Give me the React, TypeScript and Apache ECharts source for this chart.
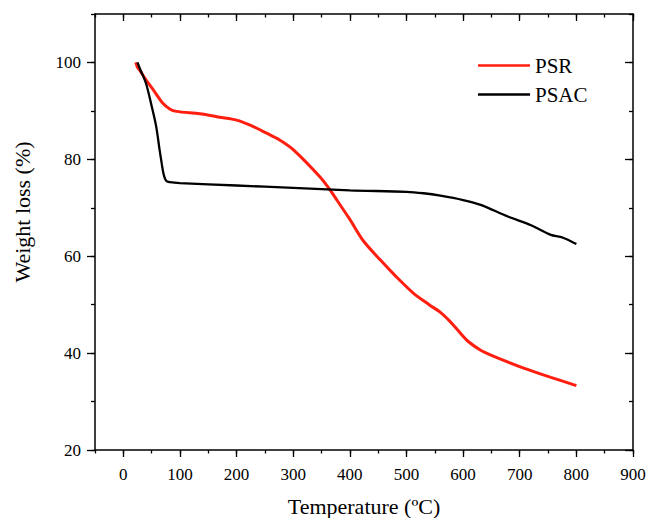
import React, { useEffect, useRef } from "react";
import * as echarts from "echarts";

const psrTemp = [22, 25, 30, 40, 55, 69, 82, 94, 135, 170, 200, 225, 253, 276, 300, 347, 365, 377, 400, 423, 454, 480, 512, 540, 560, 578, 590, 608, 631, 649, 707, 755, 800];
const psrValue = [100, 99, 98.2, 96.4, 94, 91.7, 90.4, 89.9, 89.4, 88.7, 88.1, 87.0, 85.4, 84.0, 82, 76.4, 73.7, 71.6, 67.6, 63.3, 59.2, 56, 52.4, 50, 48.4, 46.4, 44.8, 42.5, 40.6, 39.6, 36.9, 35.0, 33.3];

const psacTemp = [25, 30, 40, 50, 58, 64, 68, 71, 74, 78, 90, 100, 200, 300, 400, 500, 530, 560, 600, 631, 679, 720, 755, 772, 785, 800];
const psacValue = [100, 98.5, 95.7, 91, 86.8, 82, 79, 77, 75.9, 75.4, 75.2, 75.1, 74.6, 74.1, 73.6, 73.3, 73.0, 72.5, 71.6, 70.6, 68.2, 66.4, 64.4, 64.0, 63.4, 62.5];

const xMajorTicks = [0, 100, 200, 300, 400, 500, 600, 700, 800, 900];
const yMajorTicks = [20, 40, 60, 80, 100];

const seriesNames = ["PSR", "PSAC"];
const xTitle = "Temperature (ºC)";
const yTitle = "Weight loss (%)";

const FONT = "'Liberation Serif', 'Times New Roman', serif";

export default function App() {
  const ref = useRef<HTMLDivElement>(null);
  useEffect(() => {
    const chart = echarts.init(ref.current!, null, { renderer: "svg" });
    const axisLine = { show: true, onZero: false, lineStyle: { color: "#000", width: 1.5 } };
    const noLine = { show: false, onZero: false };
    const base = { type: "value", min: -50, max: 900, interval: 50, splitLine: { show: false } };
    const ybase = { type: "value", min: 20, max: 110, interval: 10, splitLine: { show: false } };
    const tickStyle = { color: "#000", width: 1.3 };
    chart.setOption({
      animation: false,
      backgroundColor: "#fff",
      grid: { left: 95, right: 16, top: 14, bottom: 68, containLabel: false },
      legend: {
        orient: "vertical",
        left: 473,
        top: 50,
        itemWidth: 52,
        itemHeight: 2.5,
        itemGap: 8,
        icon: "rect",
        data: seriesNames,
        textStyle: { fontFamily: FONT, fontSize: 21, color: "#000", lineHeight: 20 },
      },
      xAxis: [
        {
          ...base,
          position: "bottom",
          axisLine,
          axisTick: { show: true, inside: false, length: 7, lineStyle: tickStyle, customValues: xMajorTicks },
          axisLabel: { show: true, customValues: xMajorTicks, fontFamily: FONT, fontSize: 17, color: "#000", margin: 16 },
        },
        {
          ...base,
          position: "bottom",
          axisLine: noLine,
          axisTick: { show: true, inside: false, length: 3.5, lineStyle: tickStyle },
          axisLabel: { show: false },
        },
        {
          ...base,
          position: "top",
          axisLine,
          axisTick: { show: true, inside: true, length: 7, lineStyle: tickStyle, customValues: xMajorTicks },
          axisLabel: { show: false },
        },
        {
          ...base,
          position: "top",
          axisLine: noLine,
          axisTick: { show: true, inside: true, length: 3.5, lineStyle: tickStyle },
          axisLabel: { show: false },
        },
      ],
      yAxis: [
        {
          ...ybase,
          position: "left",
          axisLine,
          axisTick: { show: true, inside: false, length: 8, lineStyle: tickStyle, customValues: yMajorTicks },
          axisLabel: { show: true, customValues: yMajorTicks, fontFamily: FONT, fontSize: 17, color: "#000", margin: 14 },
        },
        {
          ...ybase,
          position: "left",
          axisLine: noLine,
          axisTick: { show: true, inside: false, length: 4, lineStyle: tickStyle },
          axisLabel: { show: false },
        },
        {
          ...ybase,
          position: "right",
          axisLine,
          axisTick: { show: true, inside: true, length: 8, lineStyle: tickStyle, customValues: yMajorTicks },
          axisLabel: { show: false },
        },
        {
          ...ybase,
          position: "right",
          axisLine: noLine,
          axisTick: { show: true, inside: true, length: 4, lineStyle: tickStyle },
          axisLabel: { show: false },
        },
      ],
      graphic: [
        {
          type: "text",
          x: 364,
          y: 506,
          style: { text: xTitle, font: `22px ${FONT}`, fill: "#000", textAlign: "center", textVerticalAlign: "middle" },
        },
        {
          type: "text",
          x: 22,
          y: 212,
          rotation: Math.PI / 2,
          style: { text: yTitle, font: `22px ${FONT}`, fill: "#000", textAlign: "center", textVerticalAlign: "middle" },
        },
      ],
      series: [
        {
          name: seriesNames[0],
          type: "line",
          xAxisIndex: 0,
          yAxisIndex: 0,
          symbol: "none",
          smooth: 0.3,
          lineStyle: { color: "#ff1e10", width: 3 },
          itemStyle: { color: "#ff1e10" },
          data: psrTemp.map((t, i) => [t, psrValue[i]]),
        },
        {
          name: seriesNames[1],
          type: "line",
          xAxisIndex: 0,
          yAxisIndex: 0,
          symbol: "none",
          smooth: 0.3,
          lineStyle: { color: "#000", width: 2.3 },
          itemStyle: { color: "#000" },
          data: psacTemp.map((t, i) => [t, psacValue[i]]),
        },
      ],
    });
    return () => chart.dispose();
  }, []);
  return <div ref={ref} style={{ position: "absolute", left: 0, top: 0, width: 649, height: 518 }} />;
}
